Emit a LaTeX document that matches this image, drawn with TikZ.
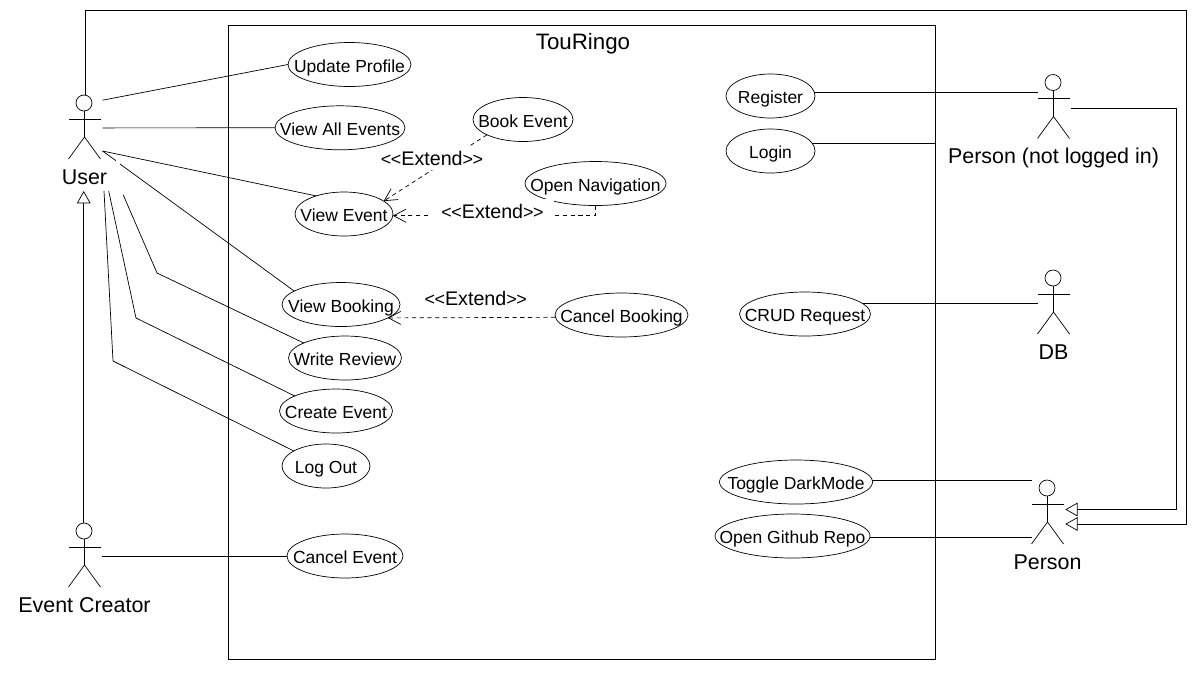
\documentclass[tikz,border=0pt]{standalone}
\usepackage{fontspec}
\setmainfont{Liberation Sans}
\usetikzlibrary{arrows.meta,shapes.geometric}
\tikzset{
    line width=0.6pt,
    usecasenode/.style={draw,ellipse,inner sep=0pt,outer sep=0pt,minimum height=0.88cm,
        text height=9pt,text depth=0pt,font=\fontsize{9.95}{12}\selectfont},
    actorbox/.style={inner sep=0pt,outer sep=0pt,minimum width=0.67cm,minimum height=1.92cm},
    actorname/.style={anchor=base,inner sep=0pt,font=\fontsize{12.2}{14}\selectfont},
    extendname/.style={anchor=base,fill=white,inner ysep=0pt,inner xsep=0pt,
        text height=10.8pt,text depth=2.8pt,font=\fontsize{11.2}{13}\selectfont},
    extendline/.style={dash pattern=on 2.4pt off 2pt,-{Straight Barb[length=7pt,width=7.4pt]}},
    inheritline/.style={-{Triangle[open,length=7pt,width=7.8pt]}}
}
\newcommand{\setup}{
    \coordinate (userA) at (102.5,100.2);
    \coordinate (userB) at (102.5,127.9);
    \coordinate (userC) at (102.5,151);
    \coordinate (userD) at (116,160.7);
    \coordinate (userE) at (120,164);
    \coordinate (userF) at (123.3,195);
    \coordinate (userG) at (157,273);
    \coordinate (userH) at (108.7,191);
    \coordinate (userI) at (136,318);
    \coordinate (userJ) at (104,191);
    \coordinate (userK) at (113,361);

    \coordinate (topL) at (85.7,10.3);
    \coordinate (topR) at (1186.5,10.3);
    \coordinate (sideB) at (1186.5,524);
    \coordinate (sideA) at (1176.7,108);
    \coordinate (sideC) at (1176.7,509.5);
    \coordinate (guestA) at (1071,108);
    \coordinate (personA) at (1065.3,509.5);
    \coordinate (personB) at (1065.3,524);
}
% name, head x, head y, text
\newcommand{\actor}[4]{
    \node[actorbox] (#1) at (#2+1.25,#3+40) {};
    \draw (#2,#3) circle (0.16cm);
    \draw (#2+0.5,#3+8) -- (#2+0.5,#3+34);
    \draw (#2-15.5,#3+16) -- (#2+16.5,#3+16);
    \draw (#2-15.5,#3+56) -- (#2+0.5,#3+34) -- (#2+16.5,#3+56);
    \node[actorname] (#1name) at (#2+0.5,#3+81) {#4};
}
% name, x, y, width, text
\newcommand{\usecase}[5]{
    \node[usecasenode,minimum width=#4*0.02cm] (#1) at (#2,#3) {\makebox[0pt]{#5}};
}
\newcommand{\extendtext}{{\fontsize{10.2}{12}\selectfont\char`\<\kern-0.3pt\char`\<}Extend{\fontsize{10.2}{12}\selectfont\char`\>\kern-0.3pt\char`\>}}

\begin{document}
\begin{tikzpicture}[x=0.02cm,y=-0.02cm]
    \useasboundingbox (0,0) rectangle (1199,680);
    \setup;

    \node[draw,inner sep=0pt,outer sep=0pt,minimum width=14.14cm,minimum height=12.68cm] (system) at (581.9,342.3) {};
    \node[actorname,font=\fontsize{12.7}{14}\selectfont] (systemname) at (583,49.3) {TouRingo};

    \actor{user}{84}{103}{User};
    \actor{creator}{84}{531}{Event Creator};
    \actor{guest}{1053}{82.5}{Person (not logged in)};
    \actor{db}{1053}{278}{DB};
    \actor{person}{1047}{488}{Person};

    \usecase{update}{349.5}{64.5}{123}{Update Profile};
    \usecase{viewall}{340}{127.8}{130}{View All Events};
    \usecase{viewevent}{344}{214}{98}{View Event};
    \usecase{viewbooking}{341}{304.5}{118}{View Booking};
    \usecase{review}{345}{358}{113}{Write Review};
    \usecase{createevent}{336}{411}{113}{Create Event};
    \usecase{logout}{326}{466}{88}{Log Out};
    \usecase{cancelevent}{345}{556}{116}{Cancel Event};
    \usecase{bookevent}{523}{119.5}{100}{Book Event};
    \usecase{opennav}{595.5}{183.5}{141}{Open Navigation};
    \usecase{cancelbooking}{621.5}{315}{133}{Cancel Booking};
    \usecase{register}{770.5}{96}{89}{Register};
    \usecase{login}{770.5}{151}{89}{Login};
    \usecase{crud}{805}{314}{131}{CRUD Request};
    \usecase{toggle}{796}{482}{153}{Toggle DarkMode};
    \usecase{github}{792.5}{536}{155}{Open Github Repo};

    \draw (userA) -- (update.west);
    \draw (userB) -- (viewall.west);
    \draw (userC) -- (viewevent.147);
    \draw (userC) -- (userD);
    \draw (userE) -- (viewbooking.164);
    \draw (userF) -- (userG) -- (review.160);
    \draw (userH) -- (userI) -- (createevent.160);
    \draw (userJ) -- (userK) -- (logout.155);
    \draw (cancelevent.west -| creator.east) -- (cancelevent.west);

    \draw (register.5) -- (register.5 -| guest.west);
    \draw (login.11) -- (login.11 -| system.east);
    \draw (crud.11) -- (crud.11 -| db.west);
    \draw (toggle.1) -- (toggle.1 -| person.west);
    \draw (github.-1) -- (github.-1 -| person.west);

    \draw[extendline] (bookevent.203) -- (viewevent.18);
    \node[extendname] (extendbook) at (432,165) {\extendtext};
    \draw[extendline] (opennav.south) |- (viewevent.-2);
    \node[extendname,inner xsep=0.2cm] (extendnav) at (492.5,218.3) {\extendtext};
    \draw[extendline] (cancelbooking.182.6) -- (viewbooking.-16);
    \node[extendname] (extendcancel) at (475.7,305) {\extendtext};

    \draw[inheritline] ([xshift=-0.03cm]creator.north) -- ([xshift=-0.03cm]creator.north |- user.south);
    \draw[inheritline] (topL |- user.north) -- (topL) -- (topR) -- (sideB) -- (personB);
    \draw[inheritline] (guestA) -- (sideA) -- (sideC) -- (personA);
\end{tikzpicture}
\end{document}
